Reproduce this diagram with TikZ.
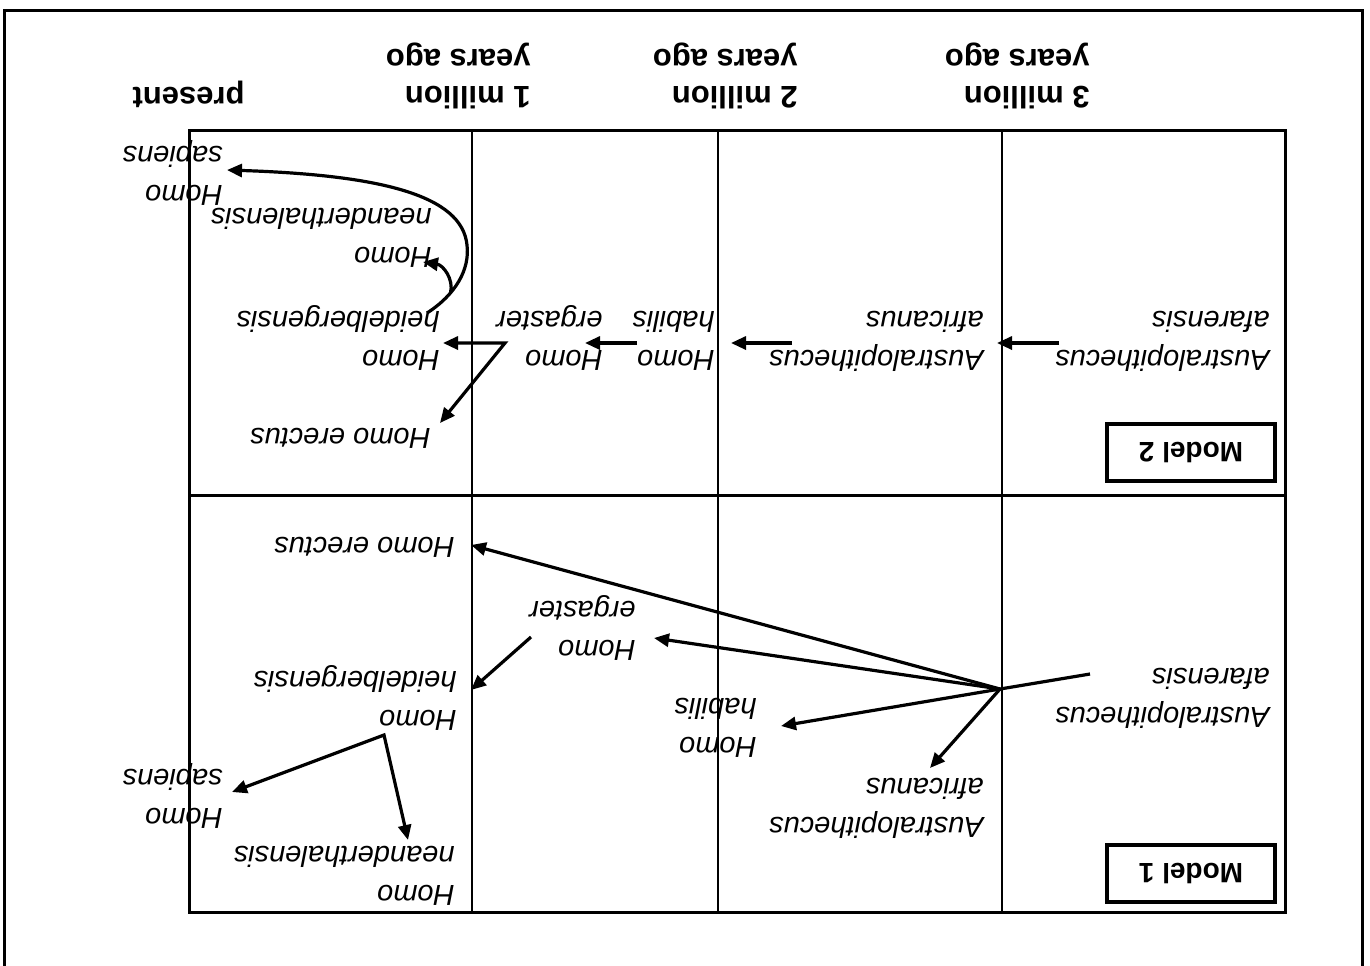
\documentclass[tikz,border=0pt]{standalone}
\usepackage{fontspec}
\setmainfont{Liberation Sans}
\usetikzlibrary{arrows.meta}

\begin{document}
\begin{tikzpicture}[x=0.5pt,y=-0.5pt,
    species/.style={rotate=180,anchor=west,align=left,inner sep=0pt,
        font=\fontsize{14.5}{19.5}\selectfont\itshape},
    period/.style={rotate=180,anchor=west,align=left,inner sep=0pt,
        font=\fontsize{15.5}{18.5}\selectfont\bfseries},
    modelbox/.style={rotate=180,draw,line width=2pt,minimum width=84pt,
        minimum height=28.5pt,font=\fontsize{14}{17}\selectfont\bfseries},
    arr/.style={line width=1.6pt,-{Triangle[length=7.5pt,width=6.5pt]}},
    dblarr/.style={line width=1.6pt,
        {Triangle[length=7.5pt,width=6.5pt]}-{Triangle[length=7.5pt,width=6.5pt]}}]
\useasboundingbox (0,0) rectangle (1370,965);
\draw[line width=1.5pt] (4,10) rectangle (1362,995);

% grid
\draw[line width=1.5pt] (189,130) rectangle (1285,912);
\draw[line width=1.5pt] (189,495) -- (1285,495);
\foreach \x in {472,718,1002}
    \draw[line width=1pt] (\x,130) -- (\x,912);

% time axis
\node[period] (t3) at (1090,76) {3 million\\years ago};
\node[period] (t2) at (798,76) {2 million\\years ago};
\node[period] (t1) at (531,76) {1 million\\years ago};
\node[period,anchor=base west] (t0) at (245,87) {present};

% model 2
\node[modelbox] (model2) at (1191,452.5) {Model 2};
\node[species] (afar2) at (1270,341) {Australopithecus\\afarensis};
\node[species] (afric2) at (984,341) {Australopithecus\\africanus};
\node[species] (hab2) at (715,341) {Homo\\habilis};
\node[species] (erg2) at (603,338) {Homo\\ergaster};
\node[species] (heid2) at (440,338) {Homo\\heidelbergensis};
\node[species] (erec2) at (431,438) {Homo erectus};
\node[species] (nean2) at (432,238) {Homo\\neanderthalensis};
\node[species] (sap2) at (223,173) {Homo\\sapiens};

\coordinate (afar2-out) at (1059,343);
\coordinate (afric2-in) at (997,343);
\coordinate (afric2-out) at (792,343);
\coordinate (hab2-in) at (731,343);
\coordinate (hab2-out) at (637,343);
\coordinate (erg2-in) at (585,343);
\coordinate (erg2-out) at (505,343);
\coordinate (heid2-in) at (443,343);
\coordinate (erec2-in) at (440,423);
\coordinate (heid2-out) at (427,313);
\coordinate (bend2) at (467,245);
\coordinate (fork2) at (450.5,293);
\coordinate (nean2-in) at (423,262);
\coordinate (sap2-in) at (227,170);

\draw[arr] (afar2-out) -- (afric2-in);
\draw[arr] (afric2-out) -- (hab2-in);
\draw[arr] (hab2-out) -- (erg2-in);
\draw[dblarr] (heid2-in) -- (erg2-out) -- (erec2-in);
\draw[arr] (heid2-out) .. controls (455,295) and (470,270) .. (bend2)
    .. controls (462,195) and (380,175) .. (sap2-in);
\draw[arr] (fork2) .. controls (454,279) and (443,265) .. (nean2-in);

% model 1
\node[modelbox] (model1) at (1191,873.5) {Model 1};
\node[species] (afar1) at (1270,698) {Australopithecus\\afarensis};
\node[species] (afric1) at (984,808) {Australopithecus\\africanus};
\node[species] (hab1) at (757,728) {Homo\\habilis};
\node[species] (erg1) at (636,628) {Homo\\ergaster};
\node[species] (erec1) at (455,547) {Homo erectus};
\node[species] (heid1) at (457,698) {Homo\\heidelbergensis};
\node[species] (sap1) at (223,796) {Homo\\sapiens};
\node[species] (nean1) at (455,876) {Homo\\neanderthalensis};

\coordinate (afar1-out) at (1090,674);
\coordinate (hub1) at (1000,689);
\coordinate (erec1-in) at (471,545);
\coordinate (erg1-in) at (654,638);
\coordinate (hab1-in) at (781,726);
\coordinate (afric1-in) at (930,768);
\coordinate (erg1-out) at (531,637);
\coordinate (heid1-in) at (471,690);
\coordinate (heid1-out) at (384,735);
\coordinate (sap1-in) at (232,792);
\coordinate (nean1-in) at (408,840);

\draw[line width=1.6pt] (afar1-out) -- (hub1);
\foreach \t in {erec1-in,erg1-in,hab1-in,afric1-in}
    \draw[arr] (hub1) -- (\t);
\draw[arr] (erg1-out) -- (heid1-in);
\draw[dblarr] (sap1-in) -- (heid1-out) -- (nean1-in);
\end{tikzpicture}
\end{document}
